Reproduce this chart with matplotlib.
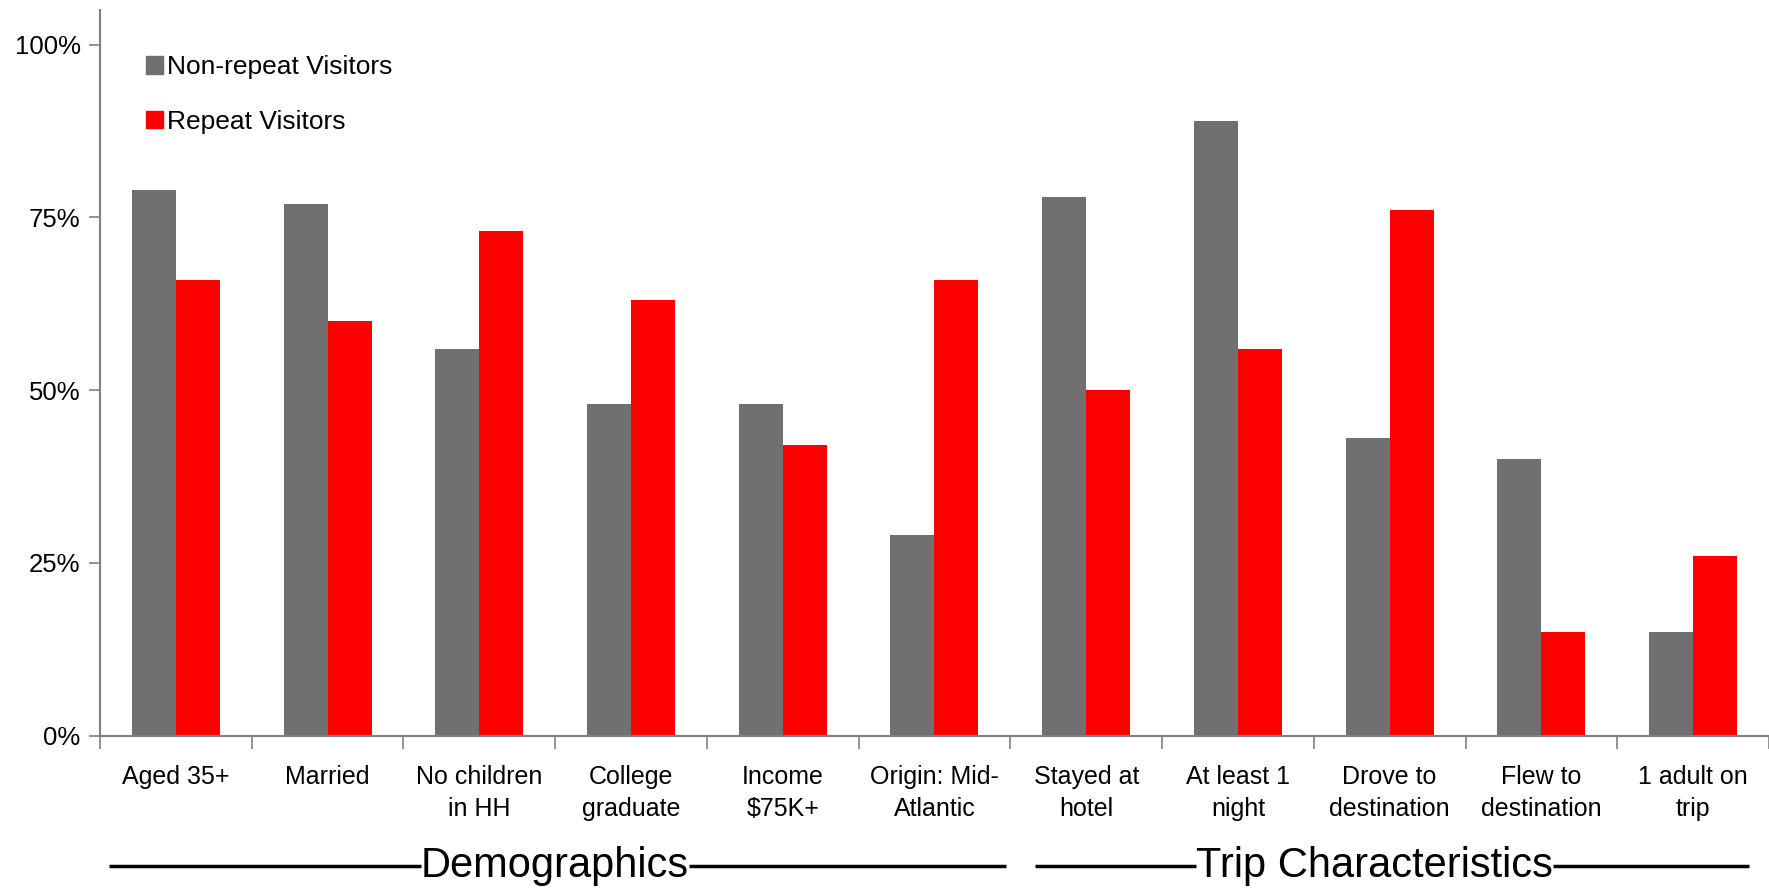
import matplotlib.pyplot as plt
from matplotlib.patches import Patch
from matplotlib.ticker import FixedLocator, PercentFormatter
import numpy as np

plt.rcParams['font.family'] = ['Liberation Sans', 'DejaVu Sans']

categories = ['Aged 35+', 'Married', 'No children\nin HH', 'College\ngraduate',
              'Income\n$75K+', 'Origin: Mid-\nAtlantic', 'Stayed at\nhotel',
              'At least 1\nnight', 'Drove to\ndestination', 'Flew to\ndestination',
              '1 adult on\ntrip']
non_repeat = [79, 77, 56, 48, 48, 29, 78, 89, 43, 40, 15]
repeat = [66, 60, 73, 63, 42, 66, 50, 56, 76, 15, 26]
series_names = ['Non-repeat Visitors', 'Repeat Visitors']
groups = ['Demographics', 'Trip Characteristics']

gray = '#707070'
red = '#ff0000'
axis_col = '#808080'

fig = plt.figure(figsize=(17.69, 8.88), dpi=100)
ax = fig.add_axes([0.0565, 0.1717, 0.9435, 0.8170])

x = np.arange(len(categories))
w = 0.29
ax.bar(x - w / 2, np.array(non_repeat) / 100, w, color=gray)
ax.bar(x + w / 2, np.array(repeat) / 100, w, color=red)

ax.set_xlim(-0.5, len(categories) - 0.5)
ax.set_ylim(0, 1.05)
ax.set_yticks([0, 0.25, 0.5, 0.75, 1.0])
ax.yaxis.set_major_formatter(PercentFormatter(1.0, decimals=0))
ax.tick_params(axis='y', labelsize=18.5, length=8, width=1.2, color=axis_col, pad=6)

ax.set_xticks(x)
ax.set_xticklabels(categories, fontsize=18, linespacing=1.45)
ax.tick_params(axis='x', which='major', length=0, pad=21)
ax.xaxis.set_minor_locator(FixedLocator(np.arange(-0.5, len(categories), 1.0)))
ax.tick_params(axis='x', which='minor', length=9, width=1.2, color=axis_col)

for s in ['top', 'right']:
    ax.spines[s].set_visible(False)
for s in ['left', 'bottom']:
    ax.spines[s].set_color(axis_col)
    ax.spines[s].set_linewidth(1.5)

handles = [Patch(color=gray), Patch(color=red)]
ax.legend(handles, series_names, loc='upper left', bbox_to_anchor=(0.021, 0.952),
          frameon=False, fontsize=19, handlelength=0.65, handleheight=0.65,
          handletextpad=0.15, labelspacing=1.15, borderaxespad=0)

# group captions under the category labels, with rules either side
group_spans = [(-0.44, 5.47, 2.5), (5.66, 10.37, 7.9)]
cap_y = -0.18
trans = ax.get_xaxis_transform()
fig.canvas.draw()
renderer = fig.canvas.get_renderer()
inv = ax.transData.inverted()
for name, (x0, x1, xc) in zip(groups, group_spans):
    t = ax.text(xc, cap_y, name, transform=trans, ha='center', va='center',
                fontsize=30)
    bb = t.get_window_extent(renderer)
    left = inv.transform((bb.x0, 0))[0]
    right = inv.transform((bb.x1, 0))[0]
    ax.plot([x0, left], [cap_y, cap_y], transform=trans, color='black',
            lw=2.5, clip_on=False, solid_capstyle='butt')
    ax.plot([right, x1], [cap_y, cap_y], transform=trans, color='black',
            lw=2.5, clip_on=False, solid_capstyle='butt')

fig.savefig('out.png', dpi=100)
